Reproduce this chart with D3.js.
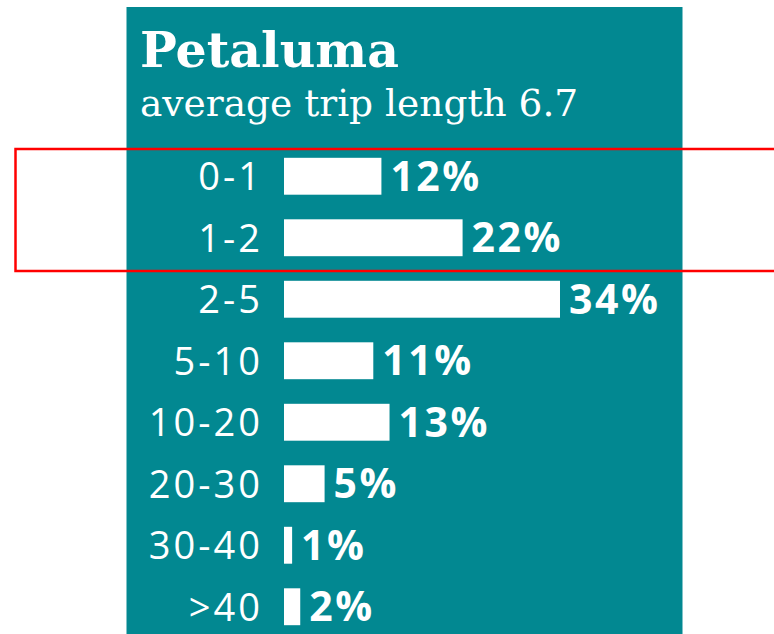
<!DOCTYPE html>
<html>
<head>
<meta charset="utf-8">
<script src="https://cdn.jsdelivr.net/npm/d3@7"></script>
<style>
  html, body { margin: 0; padding: 0; background: #ffffff; }
  svg { display: block; }
</style>
</head>
<body>
<svg id="chart" width="774" height="634"></svg>
<script>
// Trip length distribution, Petaluma
const title = "Petaluma";
const subtitle = "average trip length 6.7";
const categories = ["0-1", "1-2", "2-5", "5-10", "10-20", "20-30", "30-40", ">40"];
const shares = [12, 22, 34, 11, 13, 5, 1, 2];
const valueLabels = ["12%", "22%", "34%", "11%", "13%", "5%", "1%", "2%"];

const svg = d3.select("#chart");
const teal = "#028891";

// background panel
svg.append("rect")
  .attr("x", 126.5).attr("y", 7)
  .attr("width", 556).attr("height", 640)
  .attr("fill", teal);

svg.append("text")
  .attr("x", 140).attr("y", 67)
  .attr("fill", "#ffffff")
  .attr("font-family", "'DejaVu Serif', serif")
  .attr("font-weight", "bold")
  .attr("font-size", 49)
  .text(title);

svg.append("text")
  .attr("x", 140).attr("y", 116)
  .attr("fill", "#ffffff")
  .attr("font-family", "'DejaVu Serif', serif")
  .attr("font-size", 37.5)
  .text(subtitle);

const x = d3.scaleLinear().domain([0, 34]).range([284, 560]);
const y = d3.scaleBand()
  .domain(categories)
  .range([145.5, 637.5])
  .paddingInner(0.4)
  .paddingOuter(0.2);

const rows = svg.append("g").selectAll("g")
  .data(categories.map((c, i) => ({ c, v: shares[i], label: valueLabels[i] })))
  .join("g");

rows.append("rect")
  .attr("x", x(0))
  .attr("y", d => y(d.c))
  .attr("width", d => x(d.v) - x(0))
  .attr("height", y.bandwidth())
  .attr("fill", "#ffffff");

rows.append("text")
  .attr("x", 263)
  .attr("y", d => y(d.c) + y.bandwidth() / 2 + 14)
  .attr("text-anchor", "end")
  .attr("fill", "#ffffff")
  .attr("font-family", "'Open Sans', sans-serif")
  .attr("font-size", 38)
  .attr("letter-spacing", 3)
  .text(d => d.c);

rows.append("text")
  .attr("x", d => x(d.v) + 9)
  .attr("y", d => y(d.c) + y.bandwidth() / 2 + 14.5)
  .attr("fill", "#ffffff")
  .attr("font-family", "'Open Sans', sans-serif")
  .attr("font-weight", "bold")
  .attr("font-size", 41)
  .attr("letter-spacing", 2.5)
  .text(d => d.label);

// highlight frame around the first two rows
svg.append("rect")
  .attr("x", 15.5).attr("y", 149)
  .attr("width", 800).attr("height", 122)
  .attr("fill", "none")
  .attr("stroke", "#ff0000")
  .attr("stroke-width", 2.5);
</script>
</body>
</html>
